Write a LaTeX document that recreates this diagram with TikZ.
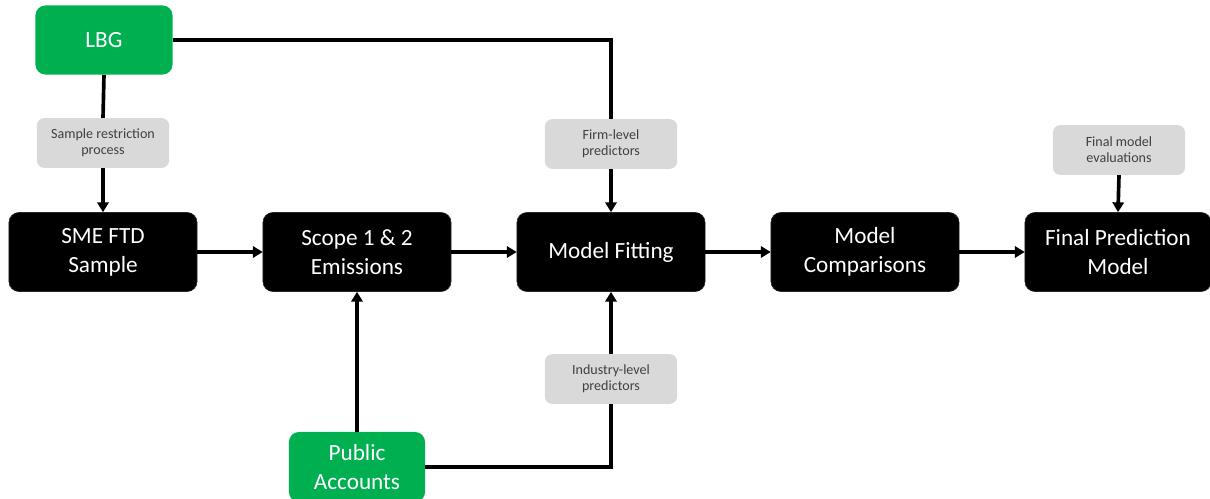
\documentclass[tikz,border=0pt]{standalone}
\usepackage{fontspec}
\setmainfont{Carlito}
\usetikzlibrary{arrows.meta}
\definecolor{srcgreen}{RGB}{0,176,80}
\definecolor{notegray}{RGB}{217,217,217}
\definecolor{notetext}{RGB}{64,64,64}
\tikzset{
  stage/.style={draw=black!85, fill=black, text=white, rounded corners=7pt,
    minimum width=4.7cm, minimum height=1.975cm, align=center,
    font=\fontsize{16.5}{20.5}\selectfont, inner sep=2pt},
  source/.style={fill=srcgreen, text=white, rounded corners=7pt,
    minimum width=3.425cm, minimum height=1.725cm, align=center,
    font=\fontsize{16.5}{20.5}\selectfont, inner sep=2pt},
  note/.style={fill=notegray, text=notetext, rounded corners=5pt,
    minimum width=3.3cm, minimum height=1.24cm, align=center,
    font=\fontsize{10}{11.5}\selectfont, inner sep=2pt},
  link/.style={line width=2.6pt, black},
  flow/.style={link, -{Triangle[length=7pt,width=8pt]}}
}
\begin{document}
\begin{tikzpicture}[x=0.025cm, y=-0.025cm]
  \useasboundingbox (0,0) rectangle (1210,499);

  % input sources
  \node[source] (lbg) at (104,40) {LBG};
  \node[source, minimum width=3.4cm, minimum height=1.75cm] (pub) at (357,467) {Public\\Accounts};

  % notes
  \node[note] (restr) at (103,143) {Sample restriction\\process};
  \node[note] (firm) at (611,144) {Firm-level\\predictors};
  \node[note] (evals) at (1119,150) {Final model\\evaluations};
  \node[note] (ind) at (611,379) {Industry-level\\predictors};

  % main pipeline
  \node[stage] (sme) at (103,252) {SME FTD\\Sample};
  \node[stage] (scope) at (357,252) {Scope 1 \& 2\\Emissions};
  \node[stage] (fit) at (611,252) {Model Fitting};
  \node[stage] (cmp) at (865,252) {Model\\Comparisons};
  \node[stage, minimum width=4.65cm] (final) at (1118,252) {Final Prediction\\Model};

  % connectors
  \draw[link] (lbg.east) -| (firm.north);
  \draw[link] (lbg.south) -- (restr.north);
  \draw[flow] (restr.south) -- (sme.north);
  \draw[flow] (firm.south) -- (fit.north);
  \draw[flow] (evals.south) -- (final.north);
  \draw[flow] (sme.east) -- (scope.west);
  \draw[flow] (scope.east) -- (fit.west);
  \draw[flow] (fit.east) -- (cmp.west);
  \draw[flow] (cmp.east) -- (final.west);
  \draw[link] (pub.east) -| (ind.south);
  \draw[flow] (ind.north) -- (fit.south);
  \draw[flow] (pub.north) -- (scope.south);
\end{tikzpicture}
\end{document}
